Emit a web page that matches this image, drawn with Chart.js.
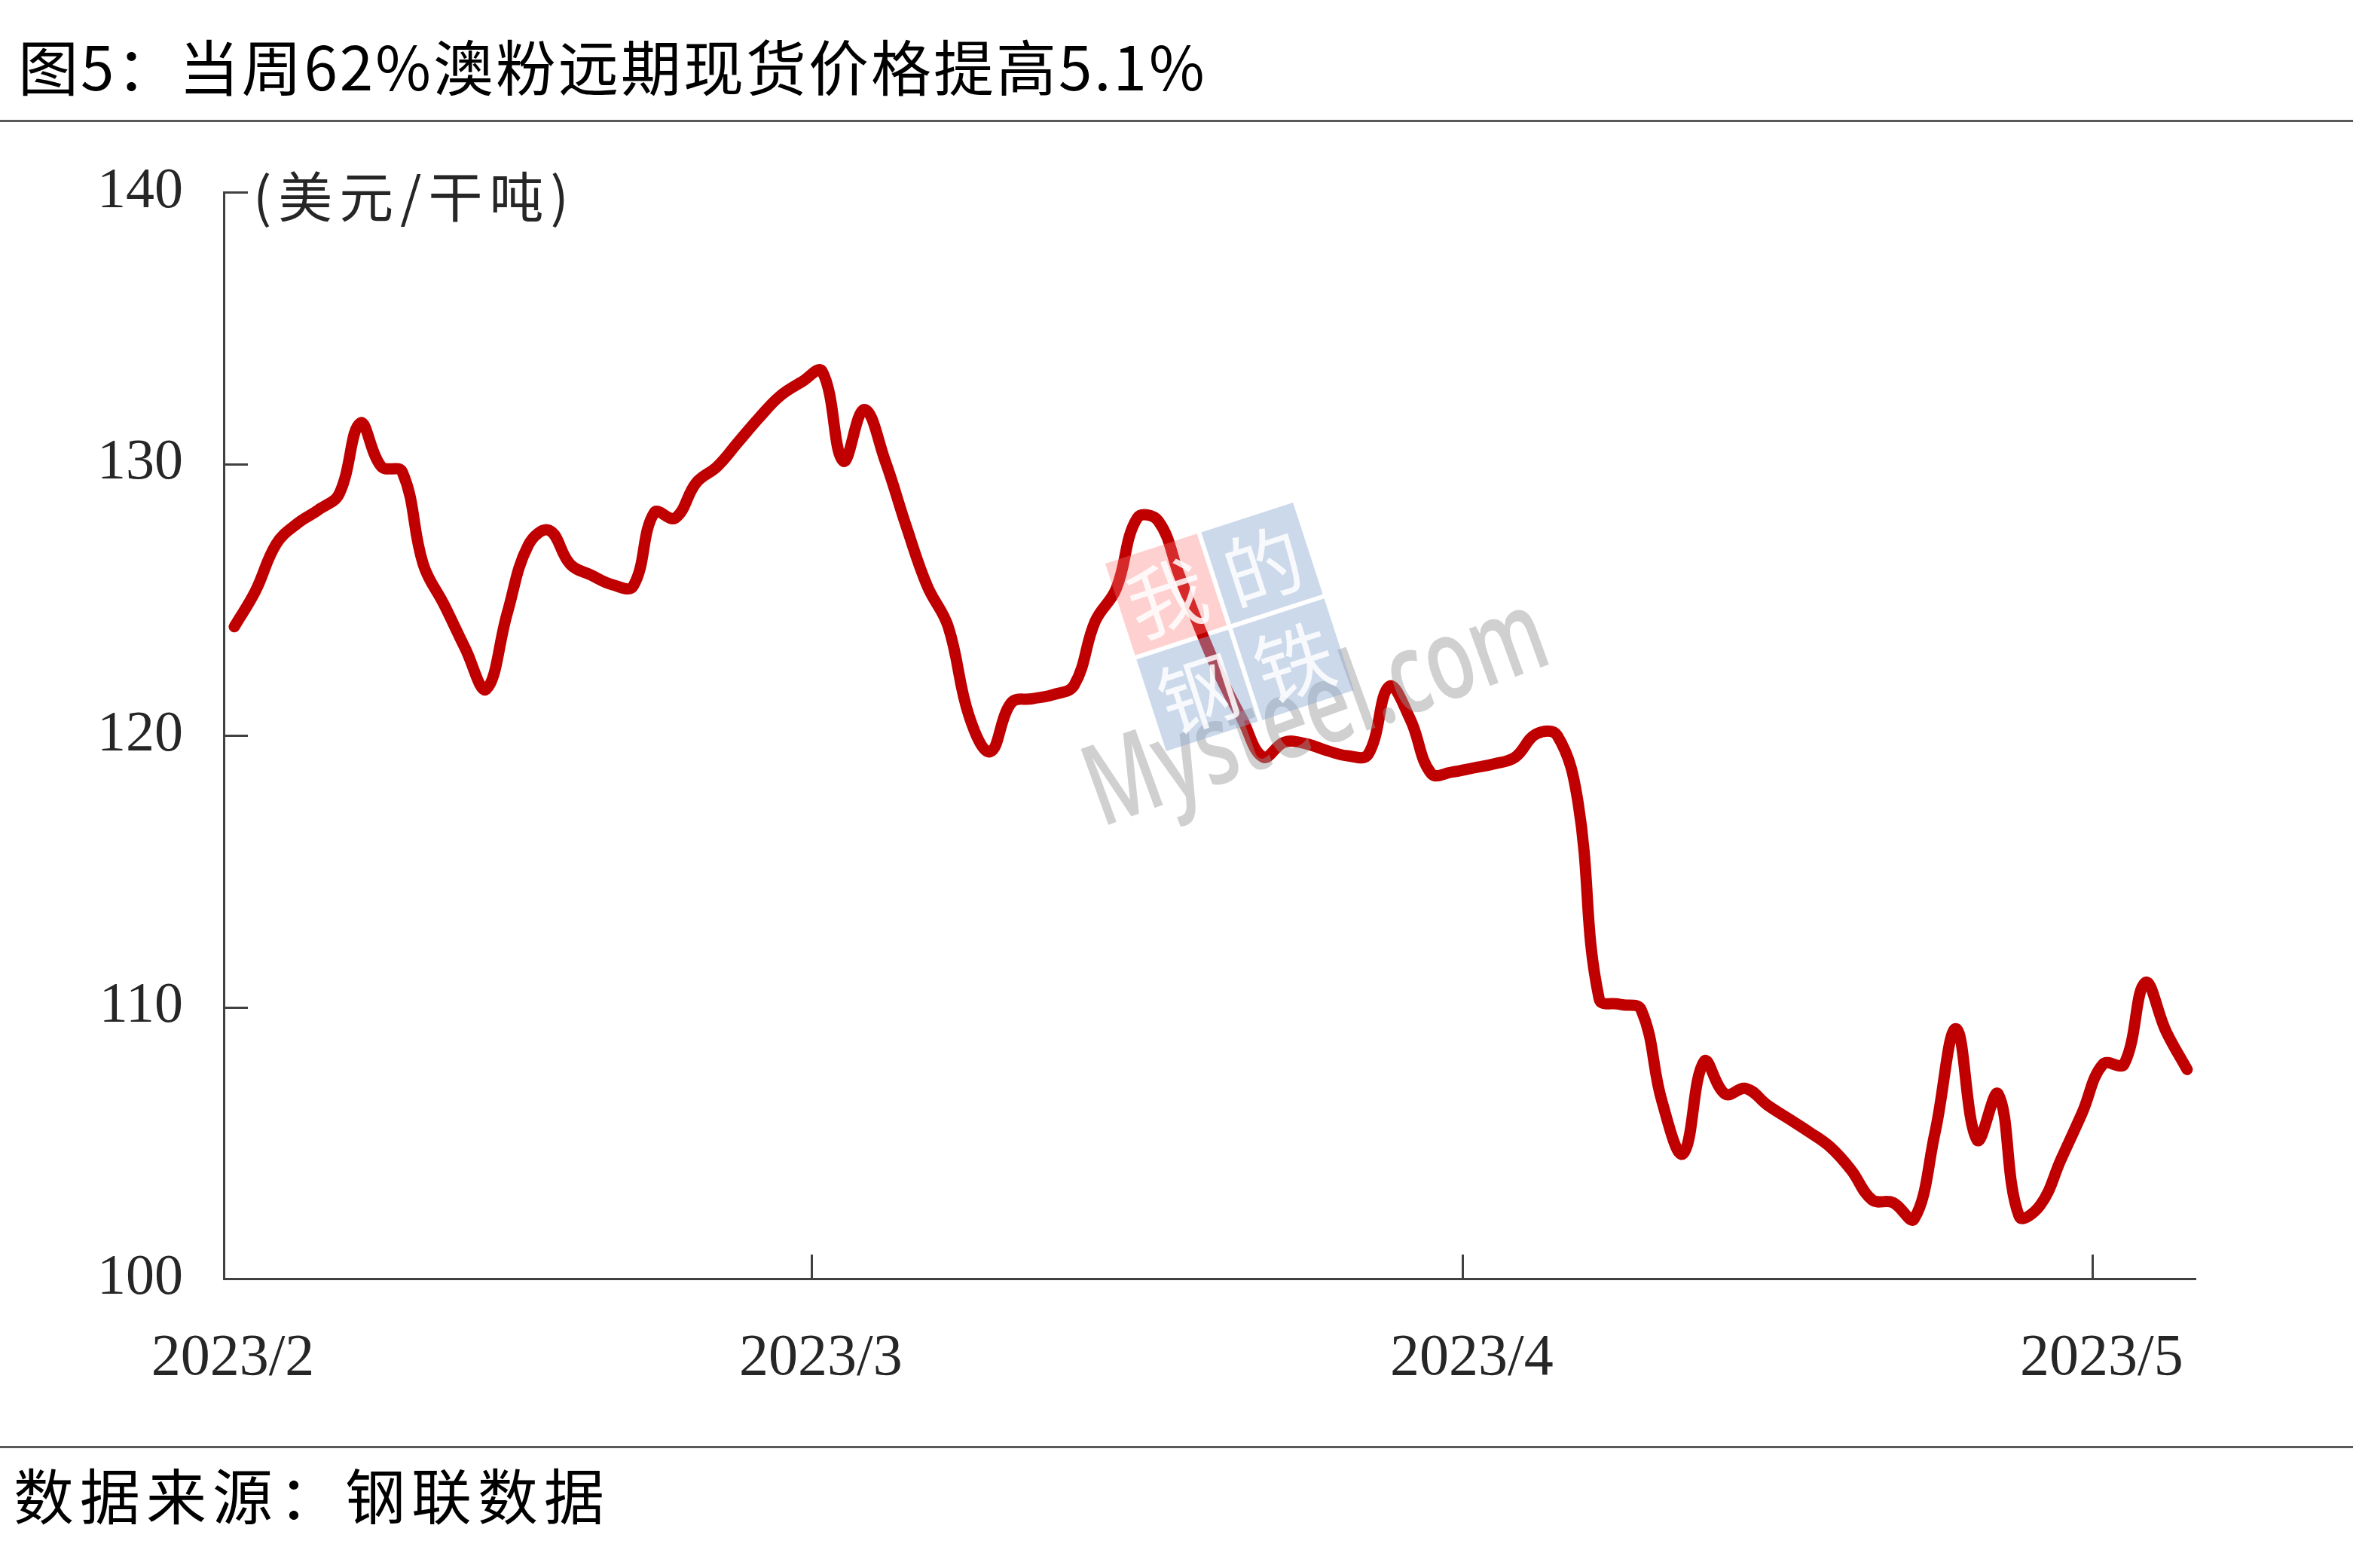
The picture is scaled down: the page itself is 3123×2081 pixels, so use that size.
<!DOCTYPE html>
<html>
<head>
<meta charset="utf-8">
<script src="https://cdn.jsdelivr.net/npm/chart.js@4.4.0/dist/chart.umd.min.js"></script>
<style>
  html, body { margin: 0; padding: 0; background: #fff; }
  #page { position: relative; width: 3123px; height: 2081px; overflow: hidden; }
  #chart { position: absolute; left: 0; top: 0; }
  .txt { position: absolute; white-space: nowrap; color: #000; font-family: "Noto Sans CJK SC", sans-serif; }
  #title { left: 24px; top: 40px; font-size: 80px; line-height: 90px; letter-spacing: 3px; }
  #unit { left: 336px; top: 214px; font-size: 72px; line-height: 86px; letter-spacing: 9px; color: #262626; }
  #source { left: 18px; top: 1936px; font-size: 80px; line-height: 90px; letter-spacing: 8px; }
  .rule { position: absolute; left: 0; width: 3123px; height: 3px; background: #595959; }
</style>
</head>
<body>
<div id="page">
  <canvas id="chart" width="3123" height="2081"></canvas>
  <div class="txt" id="title">图5：当周62%澳粉远期现货价格提高5.1%</div>
  <div class="rule" style="top:159px"></div>
  <div class="txt" id="unit">(美元/干吨)</div>
  <div class="rule" style="top:1919px"></div>
  <div class="txt" id="source">数据来源：钢联数据</div>
</div>
<script>
// 62%澳粉远期现货价格, 每日一个值 (美元/干吨)
var febPrices = [124.0, 125.3, 127.05, 127.8, 128.3, 128.9, 131.5, 129.9, 129.7, 126.3,
    124.8, 123.2, 121.7, 124.5, 127.0, 127.55, 126.3, 125.9, 125.55, 125.5,
    128.2, 128.0, 129.3, 129.9, 130.8, 131.7, 132.5, 133.0];
var marPrices = [133.4, 130.1, 132.0, 130.1, 127.7, 125.5, 124.0, 120.7, 119.4, 121.2,
    121.35, 121.5, 121.85, 124.2, 125.4, 128.0, 127.9, 125.9, 123.9, 122.1,
    120.6, 119.2, 119.75, 119.7, 119.45, 119.25, 119.3, 121.8, 120.6, 118.6, 118.65];
var aprPrices = [118.8, 118.95, 119.2, 120.05, 120.0, 117.5, 110.3, 110.1, 109.9, 106.5,
    104.6, 108.0, 106.8, 107.0, 106.4, 105.9, 105.4, 104.85, 104.0, 102.9,
    102.8, 102.2, 105.4, 109.2, 105.1, 106.8, 102.3, 102.7, 104.4, 106.1];
var mayPrices = [107.9, 107.9, 110.9, 109.1, 107.7];

var monthLabels = ["2023/2", "2023/3", "2023/4", "2023/5"];
var monthDays = [28, 31, 30, 31];
var yTicks = [100, 110, 120, 130, 140];

var axisColor = "#404040";
var lineColor = "#C00000";

// 每月第一天距 2023/2/1 的天数
var monthStarts = [];
var acc = 0;
monthDays.forEach(function (n) {
    monthStarts.push(acc);
    acc += n;
});

// 数据点放在当天的中间 (类似 Excel 日期轴)
var points = [];
[febPrices, marPrices, aprPrices, mayPrices].forEach(function (list, m) {
    list.forEach(function (v, i) {
        points.push({ x: monthStarts[m] + i + 0.5, y: v });
    });
});

// 坐标轴内侧的短刻度线
var innerTicks = {
    id: "innerTicks",
    afterDraw: function (chart) {
        var ctx = chart.ctx;
        var x = chart.scales.x, y = chart.scales.y;
        var area = chart.chartArea;
        ctx.save();
        ctx.strokeStyle = axisColor;
        ctx.lineWidth = 3;
        ctx.beginPath();
        yTicks.forEach(function (v) {
            if (v === 100) return;
            var py = Math.round(y.getPixelForValue(v)) + 0.5;
            ctx.moveTo(area.left, py);
            ctx.lineTo(area.left + 32, py);
        });
        monthStarts.forEach(function (d) {
            if (d === 0) return;
            var px = Math.round(x.getPixelForValue(d)) + 0.5;
            ctx.moveTo(px, area.bottom);
            ctx.lineTo(px, area.bottom - 32);
        });
        ctx.stroke();
        ctx.restore();
    }
};

// 水印
var watermark = {
    id: "watermark",
    afterDatasetsDraw: function (chart) {
        var ctx = chart.ctx;

        ctx.save();
        ctx.translate(1462, 1098);
        ctx.rotate(-20 * Math.PI / 180);
        ctx.font = "600 150px 'Open Sans'";
        var w = ctx.measureText("Mysteel.com").width;
        ctx.scale(640 / w, 1);
        ctx.fillStyle = "rgba(150,150,150,0.45)";
        ctx.textBaseline = "alphabetic";
        ctx.fillText("Mysteel.com", 0, 0);
        ctx.restore();

        ctx.save();
        ctx.translate(1632, 832);
        ctx.rotate(-18 * Math.PI / 180);
        var s = 128, g = 6;
        var boxes = [
            { x: -s - g / 2, y: -s - g / 2, c: "rgba(255,120,120,0.35)", t: "我" },
            { x: g / 2, y: -s - g / 2, c: "rgba(140,170,210,0.45)", t: "的" },
            { x: -s - g / 2, y: g / 2, c: "rgba(140,170,210,0.45)", t: "钢" },
            { x: g / 2, y: g / 2, c: "rgba(140,170,210,0.45)", t: "铁" }
        ];
        ctx.textAlign = "center";
        ctx.textBaseline = "middle";
        ctx.font = "104px 'Noto Sans CJK SC'";
        boxes.forEach(function (b) {
            ctx.fillStyle = b.c;
            ctx.fillRect(b.x, b.y, s, s);
            ctx.fillStyle = "rgba(255,255,255,0.85)";
            ctx.fillText(b.t, b.x + s / 2, b.y + s / 2 + 4);
        });
        ctx.restore();
    }
};

var chart = new Chart(document.getElementById("chart"), {
    type: "line",
    data: {
        datasets: [{
            label: "62%澳粉远期现货价格",
            data: points,
            borderColor: lineColor,
            borderWidth: 15,
            borderCapStyle: "round",
            borderJoinStyle: "round",
            pointRadius: 0,
            tension: 0.4,
            fill: false
        }]
    },
    options: {
        responsive: false,
        devicePixelRatio: 1,
        animation: false,
        layout: {
            padding: { left: 0, right: 209, top: 255, bottom: 184 }
        },
        plugins: {
            legend: { display: false },
            tooltip: { enabled: false }
        },
        scales: {
            x: {
                type: "linear",
                min: 0,
                max: 93.9,
                grid: { display: false, drawTicks: false },
                border: { display: true, color: axisColor, width: 3 },
                afterBuildTicks: function (scale) {
                    scale.ticks = monthStarts.map(function (d) { return { value: d }; });
                },
                afterFit: function (scale) {
                    scale.height = 200;
                },
                ticks: {
                    autoSkip: false,
                    maxRotation: 0,
                    padding: 60,
                    labelOffset: 12,
                    color: "#262626",
                    font: { family: "'Liberation Serif', 'Times New Roman', serif", size: 78 },
                    callback: function (v) {
                        return monthLabels[monthStarts.indexOf(v)];
                    }
                }
            },
            y: {
                min: 100,
                max: 140,
                grid: { display: false, drawTicks: false },
                border: { display: true, color: axisColor, width: 3 },
                afterBuildTicks: function (scale) {
                    scale.ticks = yTicks.map(function (v) { return { value: v }; });
                },
                afterFit: function (scale) {
                    scale.width = 297;
                },
                ticks: {
                    padding: 54,
                    color: "#262626",
                    font: { family: "'Liberation Serif', 'Times New Roman', serif", size: 76 }
                }
            }
        }
    },
    plugins: [innerTicks, watermark]
});
</script>
</body>
</html>
